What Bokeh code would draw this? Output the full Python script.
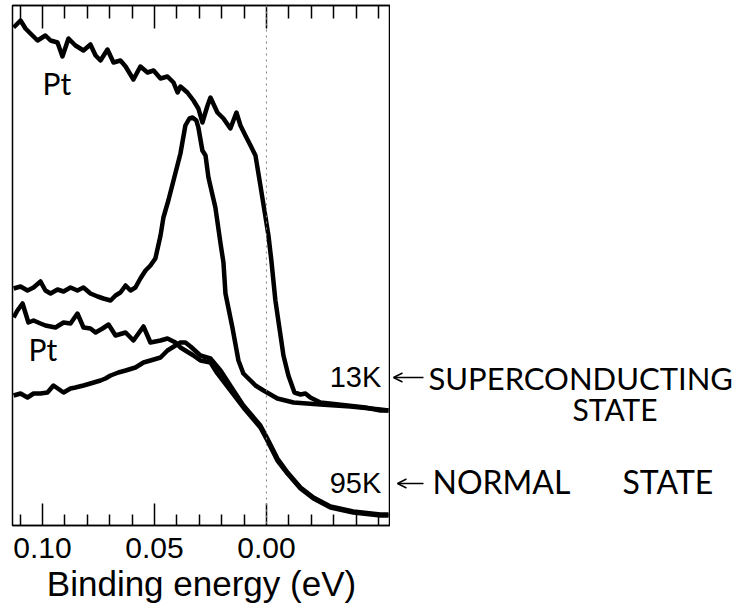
from bokeh.plotting import figure
from bokeh.layouts import row
from bokeh.models import (Range1d, LinearAxis, FixedTicker, Span, Label, Arrow, OpenHead,
                          NumeralTickFormatter, CustomJSTickFormatter)
from bokeh.embed import file_html
from bokeh.resources import INLINE

# ---- data (binding energy in eV, intensity in arbitrary units) ----
pt13_e = [0.1129, 0.1098, 0.1076, 0.1054, 0.1022, 0.0987, 0.0964, 0.0933, 0.0911, 0.0884,
          0.0853, 0.0817, 0.0786, 0.0763, 0.0741, 0.0710, 0.0683, 0.0652, 0.0629, 0.0594,
          0.0563, 0.0531, 0.0504, 0.0473, 0.0442, 0.0415, 0.0397, 0.0384, 0.0353, 0.0326,
          0.0304, 0.0286, 0.0263, 0.0250, 0.0219, 0.0192, 0.0161, 0.0134, 0.0116, 0.0094,
          0.0071, 0.0049, 0.0027, 0.0009, -0.0009, -0.0022, -0.0040, -0.0076, -0.0098, -0.0125,
          -0.0152, -0.0174, -0.0196, -0.0241, -0.0362, -0.0442, -0.0509, -0.0545]
pt13_i = [498, 505, 497, 492, 485, 490, 485, 483, 469, 487,
          480, 475, 481, 470, 465, 476, 463, 465, 459, 446,
          459, 453, 455, 447, 449, 443, 433, 439, 433, 425,
          417, 403, 420, 428, 413, 407, 397, 413, 400, 390,
          380, 370, 340, 315, 290, 265, 225, 170, 150, 133,
          131, 132, 128, 123, 120, 118, 115, 115]

sc13_e = [0.1129, 0.1098, 0.1067, 0.1040, 0.1009, 0.0987, 0.0964, 0.0933, 0.0906, 0.0875,
          0.0844, 0.0817, 0.0786, 0.0754, 0.0728, 0.0696, 0.0674, 0.0652, 0.0629, 0.0607,
          0.0585, 0.0563, 0.0540, 0.0518, 0.0496, 0.0473, 0.0460, 0.0438, 0.0415, 0.0384,
          0.0362, 0.0344, 0.0330, 0.0313, 0.0304, 0.0286, 0.0272, 0.0259, 0.0228, 0.0205,
          0.0192, 0.0183, 0.0152, 0.0125, 0.0103, 0.0085, 0.0049, 0.0013, -0.0049, -0.0121,
          -0.0241, -0.0375, -0.0509, -0.0545]
sc13_i = [237, 239, 235, 238, 244, 235, 232, 236, 234, 238,
          235, 238, 232, 229, 227, 225, 230, 233, 240, 235,
          238, 247, 255, 260, 267, 290, 308, 325, 345, 372,
          400, 407, 408, 405, 398, 375, 370, 348, 318, 282,
          263, 232, 198, 165, 152, 148, 140, 135, 127, 123,
          121, 119, 116, 115]

pt95_e = [0.1129, 0.1112, 0.1089, 0.1063, 0.1040, 0.1009, 0.0987, 0.0942, 0.0906, 0.0875,
          0.0844, 0.0817, 0.0786, 0.0763, 0.0732, 0.0705, 0.0674, 0.0629, 0.0594, 0.0549,
          0.0518, 0.0473, 0.0442, 0.0406, 0.0384, 0.0326, 0.0295, 0.0250, 0.0219, 0.0161,
          0.0103, 0.0027, -0.0004, -0.0049, -0.0094, -0.0152, -0.0210, -0.0286, -0.0388, -0.0509,
          -0.0545]
pt95_i = [208, 215, 222, 203, 205, 202, 200, 198, 203, 202,
          212, 198, 197, 193, 197, 201, 190, 193, 185, 199,
          183, 185, 187, 183, 178, 170, 165, 163, 152, 135,
          118, 98, 85, 65, 52, 37, 27, 18, 13, 10,
          10]

n95_e = [0.1129, 0.1098, 0.1067, 0.1040, 0.1009, 0.0978, 0.0951, 0.0906, 0.0875, 0.0853,
         0.0817, 0.0786, 0.0741, 0.0719, 0.0696, 0.0661, 0.0629, 0.0585, 0.0549, 0.0518,
         0.0473, 0.0442, 0.0406, 0.0384, 0.0362, 0.0339, 0.0295, 0.0250, 0.0205, 0.0147,
         0.0103, 0.0027, -0.0004, -0.0049, -0.0094, -0.0152, -0.0210, -0.0286, -0.0388, -0.0509,
         -0.0545]
n95_i = [130, 132, 128, 132, 132, 133, 140, 133, 137, 138,
         140, 142, 145, 147, 150, 153, 155, 158, 163, 165,
         168, 175, 180, 183, 183, 179, 170, 167, 155, 135,
         120, 100, 87, 67, 53, 38, 28, 19, 14, 11,
         11]

TICKS = [0.10, 0.05, 0.00]
TICK_LABELS = ["0.10", "0.05", "0.00"]
MINOR_TICKS = [0.11, 0.09, 0.08, 0.07, 0.06, 0.04, 0.03, 0.02, 0.01,
               -0.01, -0.02, -0.03, -0.04, -0.05]
X_LABEL = "Binding energy (eV)"
CURVE_LABELS = ["Pt", "Pt", "13K", "95K"]
STATE_LABELS = ["SUPERCONDUCTING", "STATE", "NORMAL", "STATE"]

p = figure(width=390, height=607, output_backend="svg", toolbar_location=None,
           x_range=Range1d(0.1134, -0.0554), y_range=Range1d(0, 520),
           x_axis_location=None, y_axis_location=None,
           min_border_left=12, min_border_right=0, min_border_top=5, min_border_bottom=82)
p.grid.visible = False
p.outline_line_color = "black"
p.outline_line_width = 1.5
p.background_fill_color = "white"
p.border_fill_color = "white"

ticker = FixedTicker(ticks=TICKS, minor_ticks=MINOR_TICKS)
xb = LinearAxis(ticker=ticker, formatter=NumeralTickFormatter(format="0.00"),
                major_label_overrides={str(t) if t != 0 else "0": l for t, l in zip(TICKS, TICK_LABELS)},
                axis_label=X_LABEL)
xb.axis_line_color = "black"
xb.axis_line_width = 1.5
xb.major_tick_in = 22
xb.major_tick_out = 0
xb.minor_tick_in = 11
xb.minor_tick_out = 0
xb.major_tick_line_width = 1.5
xb.minor_tick_line_width = 1.5
xb.major_label_text_font = "Liberation Sans"
xb.major_label_text_font_size = "30px"
xb.major_label_text_color = "black"
xb.major_label_standoff = 12
xb.axis_label_text_font = "Liberation Sans"
xb.axis_label_text_font_size = "35px"
xb.axis_label_text_font_style = "normal"
xb.axis_label_text_color = "black"
xb.axis_label_standoff = 3
p.add_layout(xb, "below")

xt = LinearAxis(ticker=ticker, formatter=CustomJSTickFormatter(code="return ''"))
xt.axis_line_color = "black"
xt.axis_line_width = 1.5
xt.major_tick_in = 23
xt.major_tick_out = 0
xt.minor_tick_in = 13
xt.minor_tick_out = 0
xt.major_tick_line_width = 1.5
xt.minor_tick_line_width = 1.5
xt.major_label_standoff = 0
p.add_layout(xt, "above")

p.add_layout(Span(location=0.0, dimension="height", line_color="#808080",
                  line_dash="2 4", line_width=1))

for xs, ys in [(pt13_e, pt13_i), (sc13_e, sc13_i), (pt95_e, pt95_i), (n95_e, n95_i)]:
    p.line(xs, ys, line_color="black", line_width=4.5, line_join="round")


def lab(fig, x, y, t, font="Lato", size="30px", align="left", baseline="alphabetic"):
    fig.add_layout(Label(x=x, y=y, text=t, text_font=font, text_font_size=size,
                         text_align=align, text_baseline=baseline, text_color="black"))


lab(p, 0.1000, 443, CURVE_LABELS[0])
lab(p, 0.1063, 177, CURVE_LABELS[1])
lab(p, -0.0513, 149, CURVE_LABELS[2], font="Liberation Sans", size="29px", align="right")
lab(p, -0.0513, 43, CURVE_LABELS[3], font="Liberation Sans", size="29px", align="right")

# side panel for the hand-written annotations (pixel-like coordinates)
q = figure(width=351, height=607, output_backend="svg", toolbar_location=None,
           x_range=Range1d(0, 351), y_range=Range1d(0, 520),
           x_axis_location=None, y_axis_location=None,
           min_border_left=0, min_border_right=0, min_border_top=5, min_border_bottom=82)
q.grid.visible = False
q.outline_line_color = None
q.background_fill_color = "white"
q.border_fill_color = "white"

q.add_layout(Arrow(end=OpenHead(size=9, line_width=1.5, line_color="black"),
                   x_start=33, y_start=148, x_end=3, y_end=148,
                   line_color="black", line_width=1.5))
q.add_layout(Arrow(end=OpenHead(size=9, line_width=1.5, line_color="black"),
                   x_start=33, y_start=42, x_end=7, y_end=42,
                   line_color="black", line_width=1.5))
lab(q, 38, 148, STATE_LABELS[0], size="31px")
lab(q, 182, 117, STATE_LABELS[1], size="30px")
lab(q, 42, 44, STATE_LABELS[2], size="32px")
lab(q, 232, 44, STATE_LABELS[3], size="32px")

layout = row(p, q, spacing=0)
open("out.html", "w").write(file_html(layout, INLINE))
